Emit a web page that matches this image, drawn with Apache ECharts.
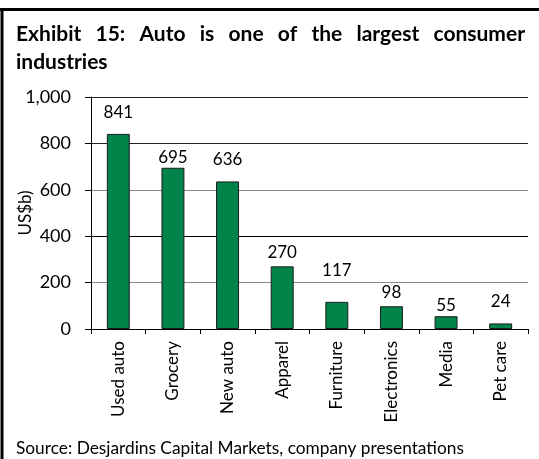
<!DOCTYPE html>
<html><head><meta charset="utf-8">
<script src="https://cdn.jsdelivr.net/npm/echarts@6/dist/echarts.min.js"></script>
<style>html,body{margin:0;padding:0;background:#fff}#c{width:539px;height:459px}</style>
</head><body><div id="c"></div>
<script>
const categories = ['Used auto','Grocery','New auto','Apparel','Furniture','Electronics','Media','Pet care'];
const values = [841, 695, 636, 270, 117, 98, 55, 24];
const yTicks = [0, 200, 400, 600, 800, 1000];
const titleLine1 = 'Exhibit 15: Auto is one of the largest consumer';
const titleLine2 = 'industries';
const yAxisName = 'US$b)';
const sourceText = 'Source: Desjardins Capital Markets, company presentations';

// label spacing above each bar (style only)
const labelGaps = [13, 2, 13, 5, 23, 5, 2, 13];

const FONT = 'Lato';
const chart = echarts.init(document.getElementById('c'), null, {renderer:'canvas'});

// justified title line 1
const ctx = document.createElement('canvas').getContext('2d');
const titleSize = 21;
ctx.font = 'bold ' + titleSize + 'px ' + FONT;
const words = titleLine1.split(' ');
const x0 = 16, x1 = 525;
const wsum = words.reduce((s,w)=>s+ctx.measureText(w).width,0);
const gap = (x1 - x0 - wsum) / (words.length - 1);
const titleEls = [];
let cx = x0;
words.forEach(w => {
  titleEls.push({type:'text', left: cx, top: 24, style:{text:w, font:'bold '+titleSize+'px '+FONT, fill:'#000'}});
  cx += ctx.measureText(w).width + gap;
});
titleEls.push({type:'text', left: x0, top: 52, style:{text:titleLine2, font:'bold '+titleSize+'px '+FONT, fill:'#000'}});

const gridColors = ['#000','#8a8a8a','#000','#8a8a8a','#222','#222'];

chart.setOption({
  animation:false,
  backgroundColor:'#fff',
  grid:{left:91, right:11, top:97, bottom:130, containLabel:false},
  xAxis:{
    type:'category', data:categories,
    axisLine:{lineStyle:{color:'#000', width:1}},
    axisTick:{show:true, alignWithLabel:false, length:5, lineStyle:{color:'#000'}},
    axisLabel:{rotate:90, margin:12, fontFamily:FONT, fontSize:17, color:'#000', interval:0}
  },
  yAxis:{
    type:'value', min:yTicks[0], max:yTicks[yTicks.length-1], interval:200,
    name:yAxisName, nameLocation:'middle', nameGap:57, nameMoveOverlap:false,
    nameTextStyle:{fontFamily:FONT, fontSize:17, color:'#000'},
    axisLine:{show:true, lineStyle:{color:'#000'}},
    axisTick:{show:true, length:6, lineStyle:{color:'#000'}},
    axisLabel:{margin:20, fontFamily:FONT, fontSize:18, color:'#000',
      formatter:v=>v.toLocaleString('en-US')},
    splitLine:{show:true, lineStyle:{color:gridColors, width:1}}
  },
  series:[{
    type:'bar', barWidth:'42%',
    data: values.map((v,i)=>({value:v, label:{distance:labelGaps[i]}})),
    itemStyle:{color:'#00844a', borderColor:'#1a1a1a', borderWidth:1},
    label:{show:true, position:'top', fontFamily:FONT, fontSize:17, color:'#000'}
  }],
  graphic:[
    {type:'line', shape:{x1:2, y1:8, x2:2, y2:459}, style:{stroke:'#000', lineWidth:3}},
    {type:'line', shape:{x1:0, y1:9.5, x2:539, y2:9.5}, style:{stroke:'#000', lineWidth:3}},
    ...titleEls,
    {type:'text', left:16, top:440, style:{text:sourceText, font:'17.3px '+FONT, fill:'#000'}}
  ]
});
</script></body></html>
